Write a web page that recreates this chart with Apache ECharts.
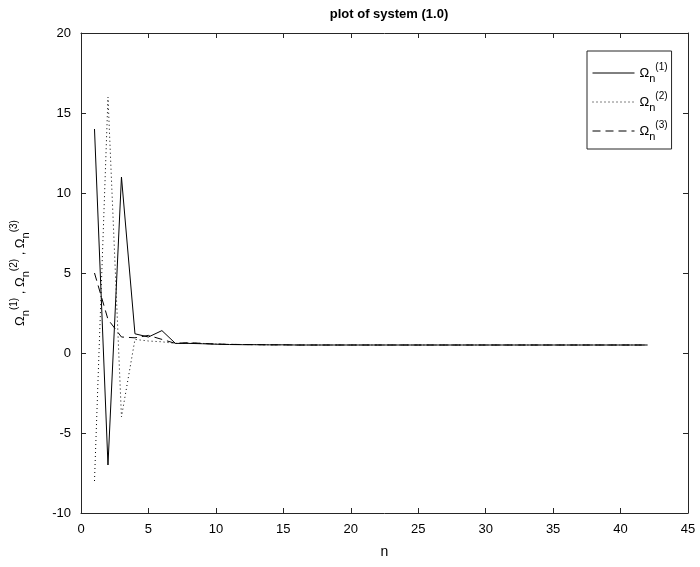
<!DOCTYPE html>
<html>
<head>
<meta charset="utf-8">
<script src="https://cdn.jsdelivr.net/npm/echarts@6/dist/echarts.min.js"></script>
<style>
  html, body { margin: 0; padding: 0; background: #fff; }
  #chart { width: 700px; height: 567px; }
</style>
</head>
<body>
<div id="chart"></div>
<script>
// sample index n
const nValues = [1, 2, 3, 4, 5, 6, 7, 8, 9, 10, 11, 12, 13, 14, 15, 16, 17, 18, 19, 20, 21,
  22, 23, 24, 25, 26, 27, 28, 29, 30, 31, 32, 33, 34, 35, 36, 37, 38, 39, 40, 41, 42]

// Omega_n^(1) (solid)
const omega1 = [14, -7, 11, 1.2, 1.0, 1.4, 0.6, 0.6, 0.58, 0.55, 0.53, 0.52, 0.52, 0.51, 0.51,
  0.5, 0.5, 0.5, 0.5, 0.5, 0.5, 0.5, 0.5, 0.5, 0.5, 0.5, 0.5, 0.5, 0.5, 0.5, 0.5, 0.5, 0.5,
  0.5, 0.5, 0.5, 0.5, 0.5, 0.5, 0.5, 0.5, 0.5]
// Omega_n^(2) (dotted)
const omega2 = [-8, 16, -4, 0.85, 0.75, 0.7, 0.6, 0.62, 0.6, 0.56, 0.54, 0.53, 0.52, 0.51, 0.51,
  0.5, 0.5, 0.5, 0.5, 0.5, 0.5, 0.5, 0.5, 0.5, 0.5, 0.5, 0.5, 0.5, 0.5, 0.5, 0.5, 0.5, 0.5,
  0.5, 0.5, 0.5, 0.5, 0.5, 0.5, 0.5, 0.5, 0.5]
// Omega_n^(3) (dashed)
const omega3 = [5, 2.1, 1.0, 0.95, 1.1, 0.85, 0.6, 0.65, 0.6, 0.56, 0.54, 0.53, 0.52, 0.51, 0.51,
  0.5, 0.5, 0.5, 0.5, 0.5, 0.5, 0.5, 0.5, 0.5, 0.5, 0.5, 0.5, 0.5, 0.5, 0.5, 0.5, 0.5, 0.5,
  0.5, 0.5, 0.5, 0.5, 0.5, 0.5, 0.5, 0.5, 0.5]

const seriesNames = ['Ω1', 'Ω2', 'Ω3']
const supLabels = ['(1)', '(2)', '(3)']

const xTicks = { min: 0, max: 45, interval: 5 }
const yTicks = { min: -10, max: 20, interval: 5 }

const FONT = 'Liberation Sans, Arial, sans-serif'
const AXIS_COLOR = '#262626'

const richOmega = {
  o: { fontFamily: FONT, fontSize: 13, color: '#000', lineHeight: 26, verticalAlign: 'middle' },
  sub: { fontFamily: FONT, fontSize: 11, color: '#000', verticalAlign: 'bottom', padding: [0, 0, 2, 0] },
  sup: { fontFamily: FONT, fontSize: 10, color: '#000', verticalAlign: 'top', padding: [2, 0, 0, 0] },
  t: { fontFamily: FONT, fontSize: 13, color: '#000' },
}

function omegaRich(i) {
  return '{o|Ω}{sub|n}{sup|' + supLabels[i] + '}'
}

const chart = echarts.init(document.getElementById('chart'))

function pairs(vals) {
  return nValues.map((n, i) => [n, vals[i]])
}

const baseAxis = {
  type: 'value',
  axisLine: { show: true, onZero: false, lineStyle: { color: AXIS_COLOR, width: 1 } },
  axisTick: { show: true, inside: true, length: 5, lineStyle: { color: AXIS_COLOR } },
  splitLine: { show: false },
}

const option = {
  backgroundColor: '#fff',
  animation: false,
  title: {
    text: 'plot of system (1.0)',
    left: 384,
    textAlign: 'center',
    top: 3,
    textStyle: { fontFamily: FONT, fontSize: 13, fontWeight: 'bold', color: '#000' },
  },
  grid: { left: 81, right: 12, top: 33, bottom: 54 },
  legend: {
    orient: 'vertical',
    left: 587,
    top: 51,
    data: seriesNames,
    itemWidth: 42,
    itemHeight: 13,
    itemGap: 7,
    padding: [11, 4, 7, 5],
    borderColor: AXIS_COLOR,
    borderWidth: 1,
    backgroundColor: '#fff',
    itemStyle: { color: 'transparent', borderWidth: 0 },
    lineStyle: { width: 1 },
    formatter: (name) => omegaRich(seriesNames.indexOf(name)),
    textStyle: { rich: richOmega },
  },
  xAxis: [
    Object.assign({}, baseAxis, xTicks, {
      position: 'bottom',
      name: 'n',
      nameLocation: 'middle',
      nameGap: 32,
      nameTextStyle: { fontFamily: FONT, fontSize: 14, color: '#000' },
      axisLabel: { fontFamily: FONT, fontSize: 13, color: '#000', margin: 10 },
    }),
    Object.assign({}, baseAxis, xTicks, {
      position: 'top',
      axisLabel: { show: false },
    }),
  ],
  yAxis: [
    Object.assign({}, baseAxis, yTicks, {
      position: 'left',
      name: omegaRich(0) + '{t| , }' + omegaRich(1) + '{t| , }' + omegaRich(2),
      nameLocation: 'middle',
      nameRotate: 90,
      nameGap: 48,
      nameTextStyle: { rich: richOmega },
      axisLabel: { fontFamily: FONT, fontSize: 13, color: '#000', margin: 10 },
    }),
    Object.assign({}, baseAxis, yTicks, {
      position: 'right',
      axisLabel: { show: false },
    }),
  ],
  series: [
    {
      name: seriesNames[0],
      type: 'line',
      data: pairs(omega1),
      symbol: 'none',
      lineStyle: { color: '#000', width: 1, type: 'solid' },
      itemStyle: { color: '#000' },
    },
    {
      name: seriesNames[1],
      type: 'line',
      data: pairs(omega2),
      symbol: 'none',
      lineStyle: { color: '#000', width: 1, type: [1, 3] },
      itemStyle: { color: '#000' },
    },
    {
      name: seriesNames[2],
      type: 'line',
      data: pairs(omega3),
      symbol: 'none',
      lineStyle: { color: '#000', width: 1, type: [8, 5] },
      itemStyle: { color: '#000' },
    },
  ],
}

chart.setOption(option)
</script>
</body>
</html>
